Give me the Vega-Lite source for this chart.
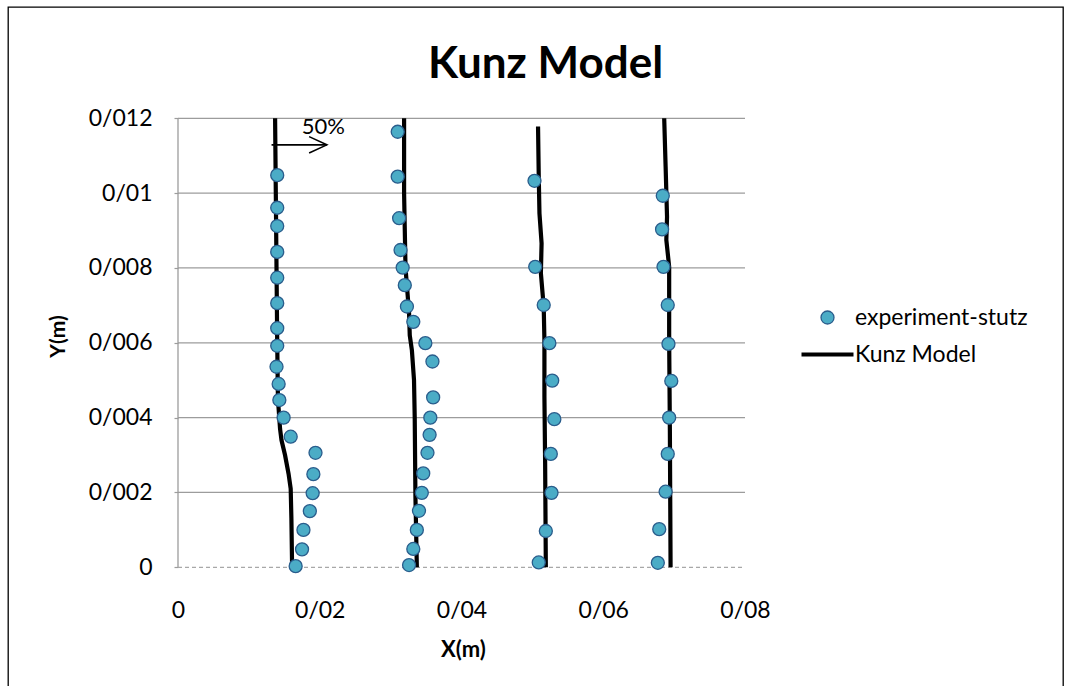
{
  "$schema": "https://vega.github.io/schema/vega-lite/v6.json",
  "width": 1055,
  "height": 683,
  "autosize": {"type": "none"},
  "padding": {"left": 8, "top": 7, "right": 7, "bottom": -4},
  "background": "white",
  "config": {
    "view": {"stroke": "black", "strokeWidth": 1.3},
    "font": "Lato"
  },
  "title": {
    "text": "Kunz Model",
    "font": "Lato",
    "fontSize": 44,
    "fontWeight": "bold",
    "color": "black",
    "anchor": "middle",
    "baseline": "alphabetic",
    "offset": 0,
    "dy": 115,
    "dx": 10
  },
  "datasets": {
    "exp": [
      {"series": "experiment-stutz", "x": 0.0140, "y": 0.01048},
      {"series": "experiment-stutz", "x": 0.0140, "y": 0.00961},
      {"series": "experiment-stutz", "x": 0.0140, "y": 0.00912},
      {"series": "experiment-stutz", "x": 0.0140, "y": 0.00843},
      {"series": "experiment-stutz", "x": 0.0140, "y": 0.00774},
      {"series": "experiment-stutz", "x": 0.0140, "y": 0.00706},
      {"series": "experiment-stutz", "x": 0.0140, "y": 0.00639},
      {"series": "experiment-stutz", "x": 0.0140, "y": 0.00592},
      {"series": "experiment-stutz", "x": 0.0139, "y": 0.00536},
      {"series": "experiment-stutz", "x": 0.0142, "y": 0.00490},
      {"series": "experiment-stutz", "x": 0.0143, "y": 0.00447},
      {"series": "experiment-stutz", "x": 0.0149, "y": 0.00400},
      {"series": "experiment-stutz", "x": 0.0159, "y": 0.00349},
      {"series": "experiment-stutz", "x": 0.0194, "y": 0.00306},
      {"series": "experiment-stutz", "x": 0.0191, "y": 0.00249},
      {"series": "experiment-stutz", "x": 0.0190, "y": 0.00198},
      {"series": "experiment-stutz", "x": 0.0186, "y": 0.00150},
      {"series": "experiment-stutz", "x": 0.0177, "y": 0.00100},
      {"series": "experiment-stutz", "x": 0.0175, "y": 0.00048},
      {"series": "experiment-stutz", "x": 0.0166, "y": 0.00003},
      {"series": "experiment-stutz", "x": 0.0310, "y": 0.01164},
      {"series": "experiment-stutz", "x": 0.0310, "y": 0.01044},
      {"series": "experiment-stutz", "x": 0.0312, "y": 0.00933},
      {"series": "experiment-stutz", "x": 0.0314, "y": 0.00848},
      {"series": "experiment-stutz", "x": 0.0317, "y": 0.00801},
      {"series": "experiment-stutz", "x": 0.0320, "y": 0.00754},
      {"series": "experiment-stutz", "x": 0.0323, "y": 0.00697},
      {"series": "experiment-stutz", "x": 0.0332, "y": 0.00656},
      {"series": "experiment-stutz", "x": 0.0349, "y": 0.00599},
      {"series": "experiment-stutz", "x": 0.0359, "y": 0.00550},
      {"series": "experiment-stutz", "x": 0.0360, "y": 0.00454},
      {"series": "experiment-stutz", "x": 0.0356, "y": 0.00400},
      {"series": "experiment-stutz", "x": 0.0355, "y": 0.00354},
      {"series": "experiment-stutz", "x": 0.0352, "y": 0.00306},
      {"series": "experiment-stutz", "x": 0.0346, "y": 0.00251},
      {"series": "experiment-stutz", "x": 0.0344, "y": 0.00199},
      {"series": "experiment-stutz", "x": 0.0340, "y": 0.00151},
      {"series": "experiment-stutz", "x": 0.0337, "y": 0.00100},
      {"series": "experiment-stutz", "x": 0.0332, "y": 0.00049},
      {"series": "experiment-stutz", "x": 0.0326, "y": 0.00006},
      {"series": "experiment-stutz", "x": 0.0503, "y": 0.01033},
      {"series": "experiment-stutz", "x": 0.0504, "y": 0.00803},
      {"series": "experiment-stutz", "x": 0.0516, "y": 0.00701},
      {"series": "experiment-stutz", "x": 0.0524, "y": 0.00599},
      {"series": "experiment-stutz", "x": 0.0528, "y": 0.00499},
      {"series": "experiment-stutz", "x": 0.0531, "y": 0.00396},
      {"series": "experiment-stutz", "x": 0.0526, "y": 0.00303},
      {"series": "experiment-stutz", "x": 0.0527, "y": 0.00199},
      {"series": "experiment-stutz", "x": 0.0519, "y": 0.00097},
      {"series": "experiment-stutz", "x": 0.0509, "y": 0.00013},
      {"series": "experiment-stutz", "x": 0.0684, "y": 0.00993},
      {"series": "experiment-stutz", "x": 0.0683, "y": 0.00903},
      {"series": "experiment-stutz", "x": 0.0685, "y": 0.00803},
      {"series": "experiment-stutz", "x": 0.0691, "y": 0.00701},
      {"series": "experiment-stutz", "x": 0.0692, "y": 0.00597},
      {"series": "experiment-stutz", "x": 0.0696, "y": 0.00498},
      {"series": "experiment-stutz", "x": 0.0693, "y": 0.00400},
      {"series": "experiment-stutz", "x": 0.0691, "y": 0.00303},
      {"series": "experiment-stutz", "x": 0.0688, "y": 0.00202},
      {"series": "experiment-stutz", "x": 0.0679, "y": 0.00102},
      {"series": "experiment-stutz", "x": 0.0677, "y": 0.00012}
    ],
    "model": [
      {"curve": 1, "x": 0.0137, "y": 0.0120},
      {"curve": 1, "x": 0.0138, "y": 0.0100},
      {"curve": 1, "x": 0.0139, "y": 0.0080},
      {"curve": 1, "x": 0.0140, "y": 0.0060},
      {"curve": 1, "x": 0.0141, "y": 0.0045},
      {"curve": 1, "x": 0.0144, "y": 0.0037},
      {"curve": 1, "x": 0.0146, "y": 0.0034},
      {"curve": 1, "x": 0.0151, "y": 0.0030},
      {"curve": 1, "x": 0.0156, "y": 0.0025},
      {"curve": 1, "x": 0.0159, "y": 0.0021},
      {"curve": 1, "x": 0.0160, "y": 0.0013},
      {"curve": 1, "x": 0.0161, "y": 0.0},
      {"curve": 2, "x": 0.0319, "y": 0.0120},
      {"curve": 2, "x": 0.0319, "y": 0.0100},
      {"curve": 2, "x": 0.0321, "y": 0.0080},
      {"curve": 2, "x": 0.0326, "y": 0.0068},
      {"curve": 2, "x": 0.0327, "y": 0.0062},
      {"curve": 2, "x": 0.0330, "y": 0.0058},
      {"curve": 2, "x": 0.0333, "y": 0.0050},
      {"curve": 2, "x": 0.0334, "y": 0.0040},
      {"curve": 2, "x": 0.0335, "y": 0.0019},
      {"curve": 2, "x": 0.0337, "y": 0.0},
      {"curve": 3, "x": 0.0508, "y": 0.01178},
      {"curve": 3, "x": 0.0509, "y": 0.01044},
      {"curve": 3, "x": 0.0510, "y": 0.00946},
      {"curve": 3, "x": 0.0513, "y": 0.00866},
      {"curve": 3, "x": 0.0512, "y": 0.00786},
      {"curve": 3, "x": 0.0516, "y": 0.00696},
      {"curve": 3, "x": 0.0517, "y": 0.00607},
      {"curve": 3, "x": 0.0517, "y": 0.00456},
      {"curve": 3, "x": 0.0518, "y": 0.00279},
      {"curve": 3, "x": 0.0519, "y": 0.0},
      {"curve": 4, "x": 0.0686, "y": 0.0120},
      {"curve": 4, "x": 0.0688, "y": 0.01071},
      {"curve": 4, "x": 0.0690, "y": 0.00937},
      {"curve": 4, "x": 0.0689, "y": 0.00875},
      {"curve": 4, "x": 0.0693, "y": 0.00803},
      {"curve": 4, "x": 0.0693, "y": 0.00607},
      {"curve": 4, "x": 0.0694, "y": 0.00367},
      {"curve": 4, "x": 0.0695, "y": 0.0}
    ],
    "grid": [
      {"y": 0.002}, {"y": 0.004}, {"y": 0.006},
      {"y": 0.008}, {"y": 0.010}, {"y": 0.012}
    ],
    "arrow": [
      {"part": "shaft", "k": 0, "x": 0.0132, "y": 0.01129},
      {"part": "shaft", "k": 1, "x": 0.0210, "y": 0.01129},
      {"part": "head", "k": 0, "x": 0.0185, "y": 0.01151},
      {"part": "head", "k": 1, "x": 0.0210, "y": 0.01129},
      {"part": "head", "k": 2, "x": 0.0185, "y": 0.01107}
    ],
    "note": [
      {"label": "50%", "x": 0.0205, "y": 0.01178}
    ]
  },
  "layer": [
    {
      "data": {"name": "grid"},
      "mark": {"type": "rule", "color": "#9c9c9c", "strokeWidth": 1.3},
      "encoding": {
        "y": {
          "field": "y",
          "type": "quantitative",
          "scale": {"domain": [-0.0032793, 0.0149746], "nice": false, "zero": false},
          "axis": {
            "values": [0, 0.002, 0.004, 0.006, 0.008, 0.01, 0.012],
            "labelExpr": "replace(toString(datum.value), '.', '/')",
            "offset": -170,
            "grid": false,
            "domain": false,
            "ticks": true,
            "tickSize": 4,
            "tickColor": "#9c9c9c",
            "tickWidth": 1.2,
            "labelFont": "Lato",
            "labelFontSize": 23,
            "labelColor": "black",
            "labelPadding": 22,
            "labelFlush": false,
            "labelOverlap": false,
            "labelBound": false,
            "title": "Y(m)",
            "titleFont": "Lato",
            "titleFontSize": 21,
            "titleFontWeight": "bold",
            "titleColor": "black",
            "titleAngle": -90,
            "titleBaseline": "middle",
            "titleAlign": "center",
            "titleX": -120,
            "titleY": 329
          }
        },
        "x": {
          "datum": 0,
          "type": "quantitative",
          "scale": {"domain": [-0.0239859, 0.1248677], "nice": false, "zero": false},
          "axis": {
            "values": [0, 0.02, 0.04, 0.06, 0.08],
            "labelExpr": "replace(toString(datum.value), '.', '/')",
            "offset": -122.7,
            "grid": false,
            "domain": false,
            "ticks": false,
            "labelFont": "Lato",
            "labelFontSize": 23,
            "labelColor": "black",
            "labelPadding": 32,
            "labelFlush": false,
            "labelOverlap": false,
            "labelBound": false,
            "title": "X(m)",
            "titleFont": "Lato",
            "titleFontSize": 22,
            "titleFontWeight": "bold",
            "titleColor": "black",
            "titleBaseline": "middle",
            "titleAlign": "center",
            "titleX": 455,
            "titleY": 82
          }
        },
        "x2": {"datum": 0.08}
      }
    },
    {
      "data": {"values": [{}]},
      "mark": {"type": "rule", "color": "#9c9c9c", "strokeWidth": 1.3},
      "encoding": {
        "x": {"datum": 0, "type": "quantitative"},
        "y": {"datum": 0, "type": "quantitative"},
        "y2": {"datum": 0.012}
      }
    },
    {
      "data": {"values": [{}]},
      "mark": {"type": "rule", "color": "#a8a8a8", "strokeWidth": 1.3, "strokeDash": [4, 3]},
      "encoding": {
        "y": {"datum": 0, "type": "quantitative"},
        "x": {"datum": 0, "type": "quantitative"},
        "x2": {"datum": 0.08}
      }
    },
    {
      "data": {"name": "model"},
      "mark": {"type": "line", "color": "black", "strokeWidth": 4.2, "strokeCap": "butt"},
      "encoding": {
        "x": {"field": "x", "type": "quantitative"},
        "y": {"field": "y", "type": "quantitative"},
        "detail": {"field": "curve", "type": "nominal"},
        "order": {"field": "y", "type": "quantitative"}
      }
    },
    {
      "data": {"name": "exp"},
      "mark": {"type": "point", "filled": true, "opacity": 1, "size": 169},
      "encoding": {
        "x": {"field": "x", "type": "quantitative"},
        "y": {"field": "y", "type": "quantitative"},
        "fill": {
          "field": "series",
          "type": "nominal",
          "scale": {"domain": ["experiment-stutz", "Kunz Model"], "range": ["#4BACC6", "black"]},
          "legend": {
            "title": null,
            "orient": "none",
            "legendX": 808,
            "legendY": 299,
            "labelFont": "Lato",
            "labelFontSize": 23,
            "labelColor": "black",
            "labelOffset": 16,
            "labelLimit": 0,
            "rowPadding": 13,
            "symbolSize": 169
          }
        },
        "stroke": {
          "field": "series",
          "type": "nominal",
          "scale": {"domain": ["experiment-stutz", "Kunz Model"], "range": ["#2A5D8C", "black"]}
        },
        "shape": {
          "field": "series",
          "type": "nominal",
          "scale": {"domain": ["experiment-stutz", "Kunz Model"], "range": ["circle", "M-4,0H4"]}
        },
        "strokeWidth": {
          "field": "series",
          "type": "nominal",
          "scale": {"type": "ordinal", "domain": ["experiment-stutz", "Kunz Model"], "range": [1.3, 4.2]}
        }
      }
    },
    {
      "data": {"name": "arrow"},
      "mark": {"type": "line", "color": "black", "strokeWidth": 1.6},
      "encoding": {
        "x": {"field": "x", "type": "quantitative"},
        "y": {"field": "y", "type": "quantitative"},
        "detail": {"field": "part", "type": "nominal"},
        "order": {"field": "k", "type": "quantitative"}
      }
    },
    {
      "data": {"name": "note"},
      "mark": {"type": "text", "font": "Lato", "fontSize": 22, "color": "black", "baseline": "middle", "align": "center"},
      "encoding": {
        "x": {"field": "x", "type": "quantitative"},
        "y": {"field": "y", "type": "quantitative"},
        "text": {"field": "label"}
      }
    }
  ]
}
